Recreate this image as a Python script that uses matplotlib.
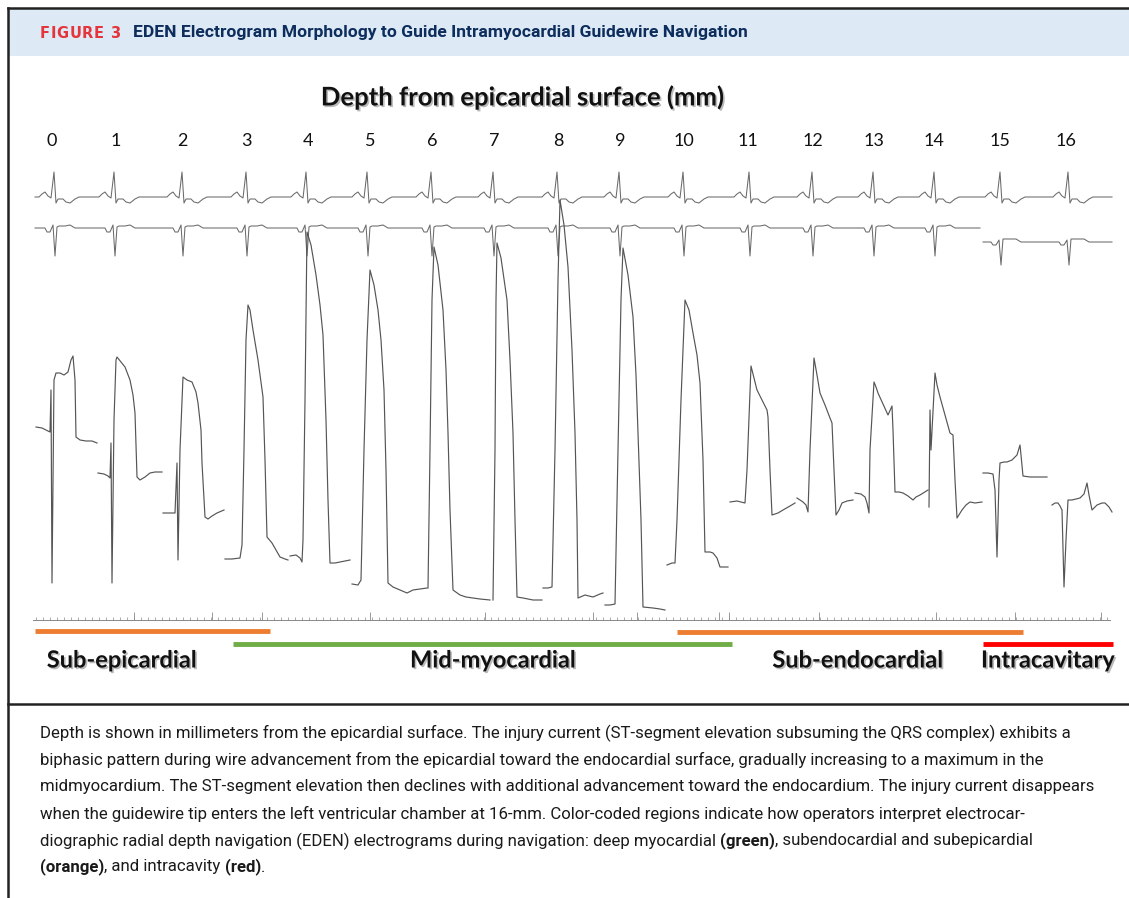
import numpy as np
import matplotlib
matplotlib.use("Agg")
import matplotlib.pyplot as plt
import matplotlib.patheffects as pe
from matplotlib.patches import Rectangle

depth_mm = list(range(17))
depth_label_x = [52, 116, 182, 246, 308, 370, 432, 494, 558, 620, 684, 748, 813, 874, 934, 1000, 1066]

# surface ECG beats (R wave positions)
ecg_beat_x = [55, 115, 183, 247, 307, 368, 432, 494, 558, 620, 684, 750, 813, 874, 935, 1001, 1069]
ecg1_dx = [-16, -13, -10, -7, -4, -1, 1, 3, 8, 11, 15, 20, 24]
ecg1_dy = [0, -3, -5, -1, 1, -25, 6, 2, 2, 5, 6, 2, 0]
ecg2_dx = [-10, -8, -5, -2, 0, 2, 4, 10, 15, 20, 26]
ecg2_dy = [0, 4, 4, -3, 28, -1, -2, -2, -3, 0, 0]
ecg2b_dy = [0, 3, 3, -2, 23, -3, -3, -3, -3, 0, 0]

# unipolar guidewire electrograms, one per depth
egm_00 = [(36, 427), (42, 428), (46, 430), (50, 432), (51, 390), (52, 583), (54, 380), (56, 373), (60, 373),
          (64, 375), (68, 372), (71, 360), (73, 356), (75, 380), (76, 437), (80, 440), (86, 441), (92, 441), (97, 443)]
egm_01 = [(98, 473), (104, 474), (108, 476), (110, 478), (111, 443), (112, 583), (114, 420), (116, 360), (117, 357),
          (121, 362), (125, 367), (130, 380), (133, 395), (135, 413), (136, 445), (137, 477), (140, 480), (145, 477),
          (150, 473), (155, 472), (162, 472)]
egm_02 = [(163, 513), (170, 513), (175, 513), (177, 463), (178, 560), (180, 450), (183, 377), (187, 380), (192, 382),
          (196, 392), (198, 403), (201, 430), (202, 463), (205, 517), (208, 519), (212, 516), (217, 513), (224, 510)]
egm_03 = [(225, 559), (232, 559), (240, 558), (242, 545), (244, 450), (246, 340), (248, 305), (250, 310), (253, 330),
          (258, 360), (263, 397), (265, 460), (267, 537), (272, 543), (276, 550), (280, 557), (285, 559), (288, 560)]
egm_04 = [(290, 556), (296, 555), (300, 558), (302, 562), (303, 540), (305, 400), (307, 232), (311, 245), (316, 275),
          (320, 305), (323, 335), (326, 420), (328, 500), (330, 563), (335, 563), (340, 562), (345, 561), (350, 560)]
egm_05 = [(352, 584), (358, 585), (361, 580), (364, 450), (367, 340), (370, 270), (374, 285), (378, 310), (381, 340),
          (384, 390), (386, 470), (388, 583), (393, 587), (400, 590), (407, 593), (413, 590), (420, 589), (427, 588)]
egm_06 = [(428, 588), (430, 450), (432, 300), (434, 247), (438, 265), (443, 310), (446, 370), (448, 433), (450, 510),
          (453, 590), (460, 595), (466, 597), (473, 598), (480, 599), (490, 600)]
egm_07 = [(493, 600), (495, 450), (496, 300), (497, 243), (501, 258), (507, 300), (510, 360), (513, 433), (515, 520),
          (517, 597), (523, 598), (533, 600), (542, 600)]
egm_08 = [(543, 588), (548, 588), (552, 587), (555, 450), (558, 280), (560, 200), (564, 225), (568, 267), (572, 350),
          (575, 433), (577, 520), (578, 598), (585, 595), (593, 597), (600, 594), (603, 593)]
egm_09 = [(605, 605), (610, 605), (615, 604), (618, 450), (621, 300), (623, 248), (628, 275), (633, 317), (636, 375),
          (638, 433), (641, 520), (643, 607), (653, 608), (660, 609), (665, 610)]
egm_10 = [(667, 565), (672, 563), (675, 563), (677, 520), (681, 400), (685, 300), (689, 310), (693, 333), (697, 355),
          (700, 383), (703, 460), (705, 552), (710, 552), (713, 553), (717, 558), (720, 567), (724, 567), (728, 567)]
egm_11 = [(730, 502), (737, 501), (745, 503), (747, 470), (751, 366), (754, 378), (757, 390), (762, 400), (767, 410),
          (768, 417), (770, 470), (772, 515), (778, 513), (783, 510), (790, 506), (795, 503)]
egm_12 = [(797, 498), (803, 502), (806, 505), (808, 512), (810, 450), (814, 358), (817, 375), (820, 393), (825, 405),
          (830, 418), (832, 423), (834, 470), (836, 515), (839, 510), (842, 503), (847, 501), (853, 500)]
egm_13 = [(855, 493), (861, 494), (865, 497), (867, 503), (869, 513), (870, 450), (874, 382), (876, 387), (878, 393),
          (883, 404), (888, 415), (892, 406), (893, 430), (895, 492), (899, 492), (903, 493), (908, 496), (913, 500),
          (916, 497), (920, 495), (928, 490)]
egm_14 = [(929, 507), (930, 410), (931, 450), (935, 373), (937, 385), (940, 397), (945, 415), (950, 433), (953, 435),
          (955, 480), (957, 518), (962, 510), (966, 505), (970, 502), (975, 503), (982, 502)]
egm_15 = [(983, 473), (988, 473), (993, 474), (995, 490), (997, 557), (999, 480), (1000, 463), (1004, 462), (1007, 462),
          (1012, 460), (1017, 455), (1020, 445), (1021, 455), (1023, 476), (1030, 477), (1040, 477), (1047, 477)]
egm_16 = [(1052, 505), (1055, 503), (1058, 503), (1060, 506), (1062, 510), (1064, 587), (1066, 540), (1068, 500),
          (1072, 500), (1080, 498), (1084, 494), (1087, 483), (1089, 495), (1092, 510), (1097, 505), (1102, 503),
          (1105, 503), (1109, 507), (1112, 512)]
egms = [egm_00, egm_01, egm_02, egm_03, egm_04, egm_05, egm_06, egm_07, egm_08,
        egm_09, egm_10, egm_11, egm_12, egm_13, egm_14, egm_15, egm_16]

ruler_major_x = [134, 212, 262, 370, 485, 593, 637, 719, 729, 819, 936, 1015, 1101]

region_names = ["Sub-epicardial", "Mid-myocardial", "Sub-endocardial", "Intracavitary"]
region_x0 = [35, 233, 677, 983]
region_x1 = [270, 732, 1023, 1113]
region_bar_y = [631, 644, 632, 644]
region_label_x = [122, 493, 858, 1048]
region_colors = ["#ed7d31", "#70ad47", "#ed7d31", "#ff0000"]

caption_lines = [
    [("Depth is shown in millimeters from the epicardial surface. The injury current (ST-segment elevation subsuming the QRS complex) exhibits a", "normal")],
    [("biphasic pattern during wire advancement from the epicardial toward the endocardial surface, gradually increasing to a maximum in the", "normal")],
    [("midmyocardium. The ST-segment elevation then declines with additional advancement toward the endocardium. The injury current disappears", "normal")],
    [("when the guidewire tip enters the left ventricular chamber at 16-mm. Color-coded regions indicate how operators interpret electrocar-", "normal")],
    [("diographic radial depth navigation (EDEN) electrograms during navigation: deep myocardial ", "normal"), ("(green)", "bold"),
     (", subendocardial and subepicardial", "normal")],
    [("(orange)", "bold"), (", and intracavity ", "normal"), ("(red)", "bold"), (".", "normal")],
]
caption_y = [733, 760, 787, 814, 841, 867]

# ---- figure ----
W, H = 1129, 898
fig = plt.figure(figsize=(W / 100, H / 100), dpi=100)
ax = fig.add_axes([0, 0, 1, 1])
ax.set_xlim(0, W)
ax.set_ylim(H, 0)
ax.axis("off")
renderer = fig.canvas.get_renderer()

# frame + header band
ax.add_patch(Rectangle((9, 9), W - 9, 47, facecolor="#dde9f5", edgecolor="none"))
ax.plot([8, W], [8, 8], color="#222222", lw=1.8)
ax.plot([8, 8], [8, H], color="#222222", lw=1.8)
ax.plot([8, W], [704, 704], color="#222222", lw=1.8)

# header, "FIGURE 3" is letter spaced
x = 40
for ch in "FIGURE 3":
    tt = ax.text(x, 33, ch, color="#e4343c", fontsize=10.5, fontweight="bold",
                 family="DejaVu Sans", va="center", ha="left")
    x += tt.get_window_extent(renderer=renderer).width + 0.6
ax.text(133, 33, "EDEN Electrogram Morphology to Guide Intramyocardial Guidewire Navigation",
        color="#0d2d5c", fontsize=12.6, fontweight="bold", family="Roboto", va="center", ha="left")

# depth axis
shadow = [pe.SimplePatchShadow(offset=(1.2, -1.2), shadow_rgbFace="#777777", alpha=0.5), pe.Normal()]
ax.text(523, 97, "Depth from epicardial surface (mm)", fontsize=18.5, fontweight="bold", family="Lato",
        ha="center", va="center", color="#111111", path_effects=shadow)
for d, x in zip(depth_mm, depth_label_x):
    ax.text(x, 141, str(d), fontsize=13, family="Lato", ha="center", va="center", color="#111111")

# surface ECG traces
def ecg_trace(beats, dx, dy, base, x0, x1):
    xs, ys = [x0], [base]
    for r in beats:
        xs += [r + d for d in dx]
        ys += [base + d for d in dy]
    xs.append(x1)
    ys.append(base)
    return xs, ys

xs, ys = ecg_trace(ecg_beat_x, ecg1_dx, ecg1_dy, 197, 35, 1112)
ax.plot(xs, ys, color="#6a6a6a", lw=0.75)
xs, ys = ecg_trace(ecg_beat_x[:15], ecg2_dx, ecg2_dy, 228, 35, 980)
ax.plot(xs, ys, color="#6a6a6a", lw=0.75)
xs, ys = ecg_trace(ecg_beat_x[15:], ecg2_dx, ecg2b_dy, 242, 983, 1112)
ax.plot(xs, ys, color="#6a6a6a", lw=0.75)

# electrograms
for egm in egms:
    ex, ey = zip(*egm)
    ax.plot(ex, ey, color="#555555", lw=0.85, solid_joinstyle="round")

# time ruler
ax.plot([33, 1110], [620, 620], color="#888888", lw=0.7)
minor = np.arange(36, 1110, 7)
ax.vlines(minor, 617, 620, color="#888888", lw=0.5)
ax.vlines(ruler_major_x, 612, 620, color="#888888", lw=0.6)

# region bars + labels
for name, x0, x1, yb, xl, c in zip(region_names, region_x0, region_x1, region_bar_y, region_label_x, region_colors):
    ax.plot([x0, x1], [yb, yb], color=c, lw=3.5, solid_capstyle="butt")
    ax.text(xl, 660, name, fontsize=17, fontweight="bold", family="Lato", ha="center", va="center",
            color="#111111", path_effects=shadow)

# caption with bold runs
for runs, y in zip(caption_lines, caption_y):
    x = 40
    for s, w in runs:
        tt = ax.text(x, y, s, fontsize=12.1, fontweight=w, family="Roboto", va="center", ha="left", color="#1a1a1a")
        x += tt.get_window_extent(renderer=renderer).width

fig.savefig("out.png", dpi=100)
